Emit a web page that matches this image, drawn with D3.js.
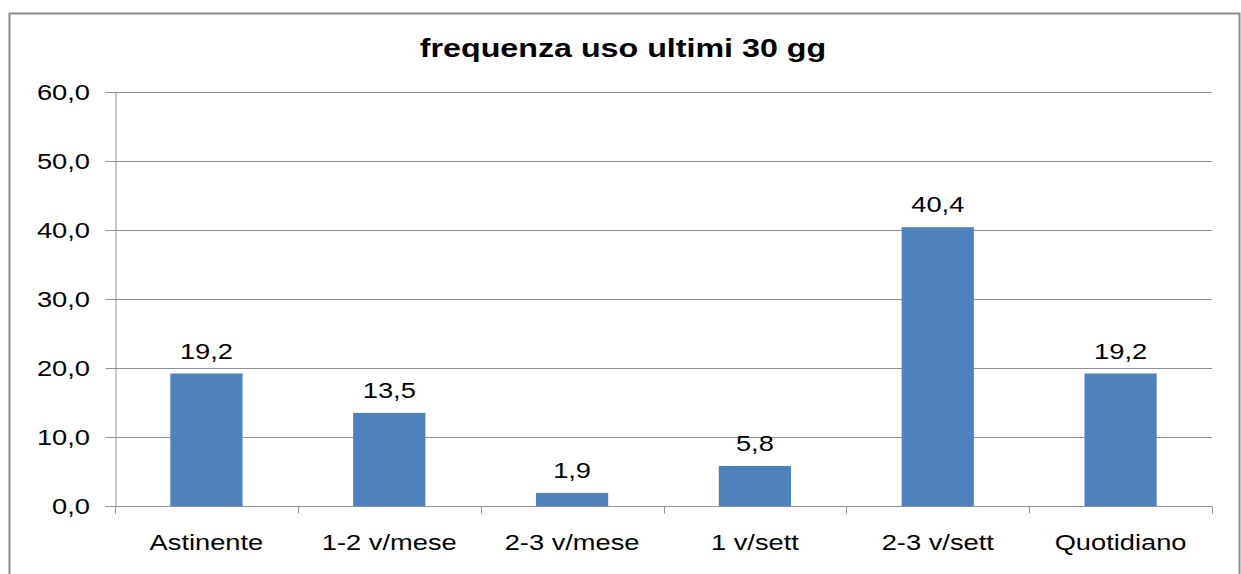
<!DOCTYPE html>
<html>
<head>
<meta charset="utf-8">
<script src="https://cdn.jsdelivr.net/npm/d3@7"></script>
<style>
  body { margin: 0; background: #fff; }
  text { font-family: "Liberation Sans", Arial, sans-serif; fill: #000; }
</style>
</head>
<body>
<div></div>
<script>
var categories = ["Astinente", "1-2 v/mese", "2-3 v/mese", "1 v/sett", "2-3 v/sett", "Quotidiano"];
var values = [19.2, 13.5, 1.9, 5.8, 40.4, 19.2];
var yTicks = [0, 10, 20, 30, 40, 50, 60];
var title = "frequenza uso ultimi 30 gg";

var W = 1241, H = 574;
var margin = { top: 92, right: 29, bottom: 68, left: 115 },
    width = W - margin.left - margin.right,
    height = H - margin.top - margin.bottom;

// the source text is a bit stretched sideways
var stretch = 1.24;
var gridColor = "#8f8f8f";

var fmt = function (v) { return d3.format(".1f")(v).replace(".", ","); };

// put a stretched text at (px, py)
function label(sel, px, py, anchor, size) {
    return sel.append("text")
        .attr("transform", "translate(" + px + "," + py + ") scale(" + stretch + ",1)")
        .attr("text-anchor", anchor)
        .style("font-size", size + "px");
}

var root = d3.select("div")
    .append("svg")
    .attr("width", W)
    .attr("height", H);

// outer frame
root.append("rect")
    .attr("x", 9.5).attr("y", 13.5)
    .attr("width", 1230).attr("height", 600)
    .attr("fill", "none")
    .attr("stroke", "#8c8c8c")
    .attr("stroke-width", 2);

label(root, 623, 57, "middle", 26)
    .style("font-weight", "bold")
    .text(title);

var svg = root.append("g")
    .attr("transform", "translate(" + margin.left + "," + margin.top + ")");

var x = d3.scaleBand().domain(categories).range([0, width]).paddingInner(0.605).paddingOuter(0.3025);
var xb = d3.scaleBand().domain(categories).range([0, width]);
var y = d3.scaleLinear().domain([0, 60]).range([height, 0]);

// gridlines
svg.append("g")
    .selectAll("line")
    .data(yTicks.filter(function (d) { return d > 0; }))
    .enter().append("line")
    .attr("x1", 0).attr("x2", width)
    .attr("y1", function (d) { return Math.round(y(d)) + 0.5; })
    .attr("y2", function (d) { return Math.round(y(d)) + 0.5; })
    .attr("stroke", gridColor)
    .attr("stroke-width", 1);

// bars
svg.append("g")
    .selectAll("rect")
    .data(values)
    .enter().append("rect")
    .attr("x", function (d, i) { return x(categories[i]); })
    .attr("width", x.bandwidth())
    .attr("y", function (d) { return y(d); })
    .attr("height", function (d) { return height - y(d); })
    .attr("fill", "#4f81bd");

// value labels
var vl = svg.append("g");
values.forEach(function (d, i) {
    label(vl, x(categories[i]) + x.bandwidth() / 2, y(d) - 15, "middle", 22).text(fmt(d));
});

// y axis
var yAxis = svg.append("g")
    .attr("transform", "translate(0.5,0)")
    .call(d3.axisLeft(y).tickValues(yTicks).tickSize(10).tickFormat(""));
yAxis.selectAll("line").attr("stroke", gridColor);
yAxis.select(".domain").attr("stroke", gridColor);
var yl = svg.append("g");
yTicks.forEach(function (t) {
    label(yl, -25, y(t) + 8, "end", 22).text(fmt(t));
});

// x axis with ticks at category boundaries
var xAxis = svg.append("g")
    .attr("transform", "translate(0," + (height + 0.5) + ")");
xAxis.append("line")
    .attr("x1", 0).attr("x2", width)
    .attr("stroke", gridColor);
xAxis.selectAll(".bt")
    .data(categories.concat(["_end"]))
    .enter().append("line")
    .attr("class", "bt")
    .attr("x1", function (d, i) { return Math.round(i * xb.step()) + 0.5; })
    .attr("x2", function (d, i) { return Math.round(i * xb.step()) + 0.5; })
    .attr("y1", 0).attr("y2", 7)
    .attr("stroke", gridColor);
categories.forEach(function (c) {
    label(xAxis, xb(c) + xb.bandwidth() / 2, 43, "middle", 22).text(c);
});
</script>
</body>
</html>
